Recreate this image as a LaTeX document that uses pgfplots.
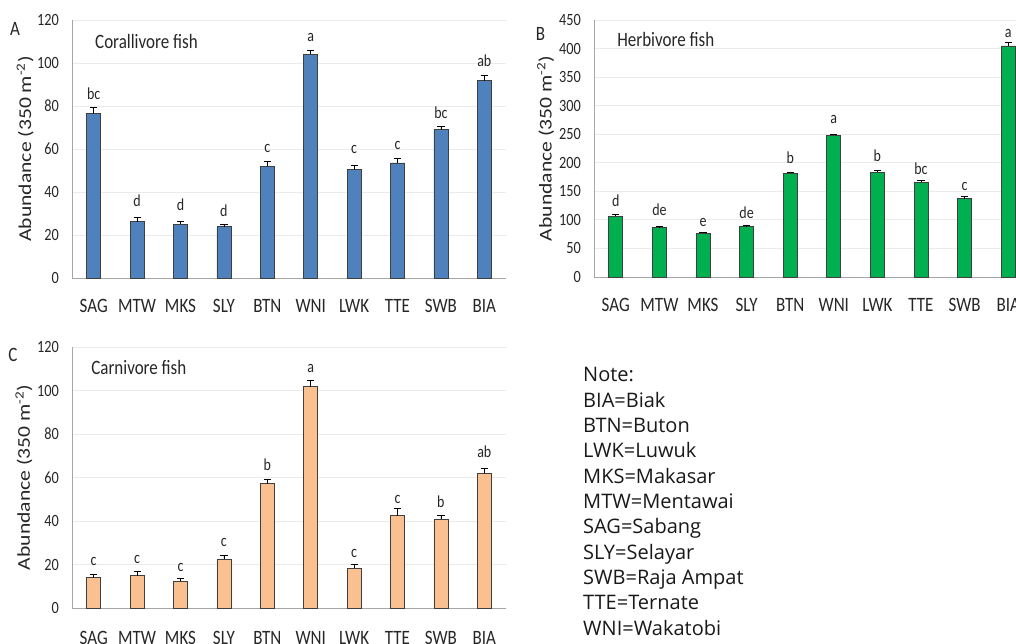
\documentclass[border=0pt]{standalone}
\usepackage{fontspec}
\setmainfont{Carlito}
\newfontfamily\notefont{Open Sans}
\usepackage{graphicx}
\usepackage{pgfplots}
\pgfplotsset{compat=1.18}
\usepackage{pgfplotstable}
\definecolor{barblue}{HTML}{4F81BD}
\definecolor{bargreen}{HTML}{00B050}
\definecolor{barorange}{HTML}{FAC090}
\definecolor{bardark}{HTML}{3F3F3F}
\definecolor{axisgray}{HTML}{A6A6A6}
\definecolor{gridgray}{HTML}{EBEBEB}
\newcommand{\vs}[1]{\scalebox{1}[1.2]{#1}}

% x = site index, y = mean abundance, e = error, ly = letter position, lab = letter
\pgfplotstableread{
x y e ly lab
0 76.5 3.0 83.2 bc
1 26.2 1.8 33.1 d
2 25.0 1.3 31.5 d
3 23.9 1.0 28.7 d
4 52.0 2.0 58.2 c
5 104.0 1.8 109.9 a
6 50.3 2.0 57.9 c
7 53.5 2.0 59.9 c
8 69.0 1.5 74.2 bc
9 91.7 2.5 98.3 ab
}\coral
\pgfplotstableread{
x y e ly lab
0 106.4 3.5 122.7 d
1 86.6 1.8 108.2 de
2 76.6 1.5 87.7 e
3 88.3 1.8 102.4 de
4 181.8 1.8 198.8 b
5 248.4 1.8 268.9 a
6 183.5 4.0 201.6 b
7 166.0 4.0 180.0 bc
8 137.4 4.0 152.0 c
9 404.5 7.0 419.7 a
}\herb
\pgfplotstableread{
x y e ly lab
0 13.9 1.6 19.6 c
1 14.9 1.7 20.4 c
2 12.4 1.1 16.6 c
3 22.5 1.7 28.4 c
4 57.2 2.0 63.3 b
5 101.8 2.7 108.2 a
6 18.2 1.7 23.2 c
7 42.5 3.2 48.0 c
8 40.8 1.8 46.4 b
9 61.9 2.2 69.1 ab
}\carn

\pgfplotsset{
  fish/.style={
    scale only axis, clip=false,
    xmin=-0.5, xmax=9.5, ymin=0,
    axis lines*=left,
    axis line style={draw=axisgray, line width=0.9pt},
    ymajorgrids, grid style={draw=gridgray, line width=0.8pt},
    major tick length=0pt,
    xtick={0,...,9},
    xticklabels={\vs{SAG},\vs{MTW},\vs{MKS},\vs{SLY},\vs{BTN},\vs{WNI},\vs{LWK},\vs{TTE},\vs{SWB},\vs{BIA}},
    xticklabel style={font=\fontsize{17}{20}\selectfont, color=black!85, inner sep=0pt, anchor=north, yshift=-21pt},
    yticklabel={\vs{\pgfmathprintnumber[assume math mode=true]{\tick}}},
    yticklabel style={font=\fontsize{14.3}{17}\selectfont, color=black!85, inner sep=0pt, anchor=east, xshift=-13pt},
    ylabel={\scalebox{1.2}[1]{Abundance (350 m\textsuperscript{-2})}},
    ylabel style={font=\fontsize{18}{20}\selectfont, color=black!85, anchor=center},
  },
  bars/.style={ybar, bar width=14pt, fill=#1, draw=bardark, line width=0.8pt,
    error bars/.cd, y dir=plus, y explicit,
    error bar style={line width=0.8pt, black},
    error mark options={rotate=90, mark size=3.6pt, line width=0.8pt, black}},
  letters/.style={draw=none, mark=none, nodes near coords={\vs{\pgfplotspointmeta}},
    point meta=explicit symbolic,
    nodes near coords style={anchor=base, inner sep=0pt, font=\fontsize{14}{16}\selectfont, color=black!85}},
}

\begin{document}
\begin{tikzpicture}
\path[use as bounding box] (0,0) rectangle (1016pt,643pt);
\clip (0,0) rectangle (1016pt,643pt);

% Panel A
\begin{axis}[fish, at={(72pt,365pt)}, anchor=south west, width=434pt, height=258pt,
  ymax=120, ytick={0,20,...,120},
  ylabel style={at={(axis description cs:-0.108,0.5)}}]
\addplot[bars=barblue] table[x=x, y=y, y error=e] {\coral};
\addplot[letters] table[x=x, y=ly, meta=lab] {\coral};
\node[anchor=west, inner sep=0pt, font=\fontsize{17}{20}\selectfont, color=black!85] at (axis description cs:0.053,0.915) {\vs{Corallivore fish}};
\end{axis}

% Panel B
\begin{axis}[fish, at={(594pt,366pt)}, anchor=south west, width=436pt, height=257pt,
  ymax=450, ytick={0,50,...,450},
  ylabel style={at={(axis description cs:-0.111,0.5)}}]
\addplot[bars=bargreen] table[x=x, y=y, y error=e] {\herb};
\addplot[letters] table[x=x, y=ly, meta=lab] {\herb};
\node[anchor=west, inner sep=0pt, font=\fontsize{17}{20}\selectfont, color=black!85] at (axis description cs:0.053,0.926) {\vs{Herbivore fish}};
\end{axis}

% Panel C
\begin{axis}[fish, at={(72pt,35pt)}, anchor=south west, width=434pt, height=261pt,
  ymax=120, ytick={0,20,...,120},
  xticklabel style={yshift=-2pt},
  ylabel style={at={(axis description cs:-0.111,0.5)}}]
\addplot[bars=barorange] table[x=x, y=y, y error=e] {\carn};
\addplot[letters] table[x=x, y=ly, meta=lab] {\carn};
\node[anchor=west, inner sep=0pt, font=\fontsize{17}{20}\selectfont, color=black!85] at (axis description cs:0.044,0.923) {\vs{Carnivore fish}};
\end{axis}

% panel letters
\node[font=\fontsize{17}{20}\selectfont, color=black!85] at (15pt,614pt) {\vs{A}};
\node[font=\fontsize{17}{20}\selectfont, color=black!85] at (540.5pt,609.5pt) {\vs{B}};
\node[font=\fontsize{17}{20}\selectfont, color=black!85] at (13pt,288pt) {\vs{C}};

% note
\foreach \t [count=\i from 0] in {Note:,BIA=Biak,BTN=Buton,LWK=Luwuk,MKS=Makasar,MTW=Mentawai,SAG=Sabang,SLY=Selayar,SWB=Raja Ampat,TTE=Ternate,WNI=Wakatobi}
  \node[anchor=base west, inner sep=0pt, font=\notefont\fontsize{20}{24}\selectfont, color=black!90] at (583pt,{261.3pt-25.33pt*\i}) {\t};
\end{tikzpicture}
\end{document}
